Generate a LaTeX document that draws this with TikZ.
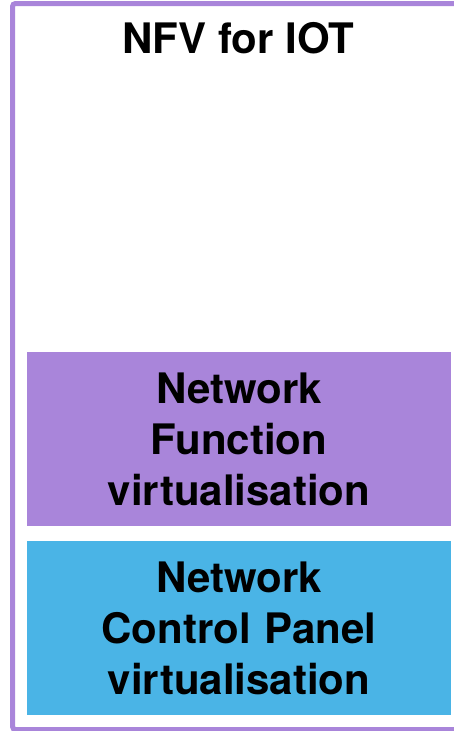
\documentclass[tikz,border=0pt]{standalone}
\usepackage{fontspec}
\setmainfont{TeX Gyre Heros}
\definecolor{framepurple}{HTML}{A985DA}
\definecolor{layerpurple}{HTML}{A985DA}
\definecolor{layerblue}{HTML}{4AB4E6}
\begin{document}
\begin{tikzpicture}[x=1pt,y=-1pt,
  layerbox/.style={rectangle, inner sep=0pt, minimum width=424pt, minimum height=174pt,
    align=center, text width=424pt, font=\fontsize{42}{51}\selectfont\bfseries},
  titletext/.style={inner sep=0pt, anchor=base, font=\fontsize{42}{51}\selectfont\bfseries}]
  \useasboundingbox (0,0) rectangle (454,731);
  % outer frame (runs past the right and bottom edges)
  \draw[framepurple, line width=5pt, rounded corners=3pt] (12.5,3.5) rectangle (460,729.5);
  % title
  \node[titletext] (title) at (238.5,53) {NFV for IOT};
  % stacked layers
  \node[layerbox, fill=layerpurple] (nfv) at (239,439) {Network\\Function\\virtualisation};
  \node[layerbox, fill=layerblue] (ncp) at (239,628) {Network\\Control Panel\\virtualisation};
\end{tikzpicture}
\end{document}
